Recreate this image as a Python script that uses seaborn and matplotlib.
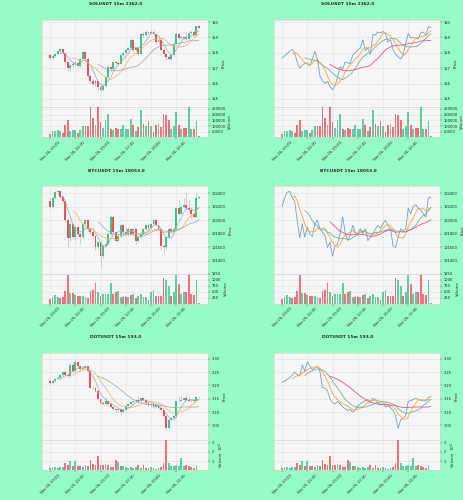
import numpy as np
import pandas as pd
import matplotlib
matplotlib.use("Agg")
import matplotlib.pyplot as plt
import seaborn as sns

sns.set_theme(style="whitegrid")
plt.rcParams['font.family'] = ['DejaVu Sans']

# ---------------- data ----------------
tick_pos = [0, 10, 20, 30, 40, 50]
tick_labels = ["Nov 06, 00:00", "Nov 06, 02:30", "Nov 06, 05:00",
               "Nov 06, 07:30", "Nov 06, 10:00", "Nov 06, 12:30"]

sol_title = "SOLUSDT 15m 2362.0"
sol_open = [157.85, 157.65, 157.8, 157.95, 158.1, 158.22, 158.0, 157.4, 157.0, 157.2,
            157.3, 157.35, 157.15, 157.6, 158.07, 157.6, 156.5, 156.2, 156.0, 156.15,
            155.8, 155.6, 155.85, 156.45, 157.1, 156.93, 157.4, 157.35, 157.3, 157.85,
            158.0, 158.2, 158.3, 158.85, 158.15, 158.3, 157.9, 159.2, 159.15, 159.35,
            159.3, 159.38, 159.25, 158.7, 158.85, 158.2, 157.9, 157.75, 157.6, 157.85,
            158.6, 159.25, 158.95, 159.0, 158.95, 158.9, 159.3, 159.35, 159.15, 159.72]
sol_close = [157.65, 157.8, 157.95, 158.1, 158.22, 158.0, 157.4, 157.0, 157.2, 157.3,
             157.35, 157.15, 157.6, 158.07, 157.6, 156.5, 156.2, 156.0, 156.15, 155.8,
             155.6, 155.85, 156.45, 157.1, 156.93, 157.4, 157.35, 157.3, 157.85, 158.0,
             158.2, 158.3, 158.85, 158.15, 158.3, 157.9, 159.2, 159.15, 159.35, 159.3,
             159.38, 159.25, 158.7, 158.85, 158.2, 157.9, 157.75, 157.6, 157.85, 158.6,
             159.25, 158.95, 159.0, 158.95, 158.9, 159.3, 159.35, 159.15, 159.72, 159.64]
sol_high = [157.9, 157.85, 158.0, 158.15, 158.28, 158.25, 158.05, 157.5, 157.3, 157.4,
            157.5, 157.45, 157.7, 158.15, 158.1, 157.65, 156.6, 156.3, 156.25, 156.2,
            155.9, 155.95, 156.5, 157.2, 157.15, 157.45, 157.5, 157.45, 157.9, 158.05,
            158.25, 158.4, 158.95, 158.9, 158.4, 158.35, 159.3, 159.4, 159.45, 159.4,
            159.5, 159.45, 159.3, 159.0, 158.9, 158.3, 157.95, 157.85, 157.9, 158.7,
            159.35, 159.3, 159.1, 159.1, 159.35, 159.4, 159.45, 159.4, 159.8, 159.75]
sol_low = [157.55, 157.6, 157.75, 157.9, 158.05, 157.95, 157.3, 156.85, 156.8, 157.1,
           157.2, 157.05, 157.1, 157.55, 157.5, 156.4, 156.05, 155.9, 155.85, 155.5,
           155.45, 155.55, 155.8, 156.4, 156.85, 156.9, 157.25, 157.2, 157.25, 157.8,
           157.95, 158.15, 158.25, 158.05, 158.1, 157.8, 157.85, 159.05, 159.1, 159.15,
           159.2, 159.15, 158.6, 158.6, 158.1, 157.75, 157.55, 157.5, 157.55, 157.8,
           158.55, 158.85, 158.9, 158.85, 158.8, 158.85, 159.2, 159.0, 159.1, 159.6]
sol_volume = [26000, 55000, 55000, 67000, 58000, 38000, 110000, 154000, 52000, 64000,
              64000, 40000, 64000, 98000, 98000, 98000, 267000, 174000, 113000, 267000,
              139000, 87000, 151000, 209000, 75000, 64000, 84000, 75000, 70000, 113000,
              72000, 72000, 162000, 107000, 58000, 93000, 243000, 122000, 101000, 145000,
              101000, 49000, 110000, 116000, 93000, 203000, 200000, 151000, 75000, 98000,
              223000, 110000, 70000, 84000, 84000, 267000, 78000, 75000, 145000, 12000]

btc_title = "BTCUSDT 15m 10053.0"
btc_open = [102290, 102205, 102330, 102415, 102430, 102340, 102280, 102000, 101740, 101950,
            101750, 101900, 101800, 101760, 101950, 102000, 101875, 101825, 101775, 101600,
            101675, 101470, 101620, 101650, 101800, 102050, 101825, 101700, 101775, 101925,
            101825, 101800, 101875, 101800, 101875, 101700, 101750, 101800, 101875, 101925,
            101880, 101950, 102000, 101925, 101875, 101620, 101600, 101750, 101875, 101850,
            101870, 102180, 102100, 102205, 102230, 102180, 102150, 102100, 102050, 102330]
btc_close = [102205, 102330, 102415, 102430, 102340, 102280, 102000, 101740, 101950, 101750,
             101900, 101800, 101760, 101950, 102000, 101875, 101825, 101775, 101600, 101675,
             101470, 101620, 101650, 101800, 102050, 101825, 101700, 101775, 101925, 101825,
             101800, 101875, 101800, 101875, 101700, 101750, 101800, 101875, 101925, 101880,
             101950, 102000, 101925, 101875, 101620, 101600, 101750, 101875, 101850, 101870,
             102180, 102100, 102205, 102230, 102180, 102150, 102100, 102050, 102330, 102345]
btc_high = [102330, 102360, 102440, 102450, 102440, 102360, 102300, 102020, 101990, 101980,
            101930, 101930, 101820, 101960, 102010, 102020, 101890, 101850, 101790, 101700,
            101690, 101640, 101700, 101830, 102080, 102060, 101840, 101800, 101950, 101940,
            101900, 101890, 101890, 101880, 101890, 101770, 101810, 101880, 101935, 101950,
            101960, 102040, 102010, 101935, 101880, 101640, 101760, 101890, 101880, 101900,
            102200, 102300, 102220, 102330, 102420, 102300, 102200, 102120, 102400, 102360]
btc_low = [102180, 102190, 102310, 102380, 102320, 102250, 101980, 101600, 101700, 101720,
           101700, 101780, 101650, 101740, 101930, 101850, 101800, 101740, 101560, 101580,
           101320, 101450, 101600, 101640, 101790, 101800, 101680, 101690, 101760, 101800,
           101780, 101780, 101780, 101790, 101650, 101680, 101740, 101790, 101860, 101860,
           101870, 101940, 101910, 101860, 101560, 101520, 101580, 101740, 101820, 101830,
           101860, 102080, 102090, 102190, 102160, 102130, 102020, 102030, 102040, 102310]
btc_volume = [210, 280, 355, 280, 240, 260, 540, 1185, 460, 430,
              355, 330, 330, 330, 290, 220, 525, 550, 855, 500,
              300, 395, 420, 420, 870, 395, 475, 525, 290, 290,
              290, 260, 355, 420, 240, 330, 395, 290, 280, 160,
              500, 550, 330, 300, 330, 1050, 1000, 725, 330, 500,
              1185, 815, 395, 500, 475, 1185, 420, 370, 990, 30]

dot_title = "DOTUSDT 15m 193.0"
dot_open = [3.217, 3.211, 3.217, 3.223, 3.229, 3.238, 3.250, 3.241, 3.236, 3.278,
            3.253, 3.288, 3.272, 3.260, 3.266, 3.272, 3.253, 3.192, 3.190, 3.180,
            3.149, 3.135, 3.131, 3.140, 3.131, 3.119, 3.113, 3.106, 3.110, 3.100,
            3.108, 3.122, 3.131, 3.137, 3.143, 3.147, 3.140, 3.152, 3.146, 3.135,
            3.127, 3.131, 3.119, 3.125, 3.115, 3.106, 3.086, 3.039, 3.070, 3.076,
            3.086, 3.140, 3.143, 3.147, 3.152, 3.147, 3.143, 3.146, 3.142, 3.155]
dot_close = [3.211, 3.217, 3.223, 3.229, 3.238, 3.250, 3.241, 3.236, 3.278, 3.253,
             3.288, 3.272, 3.260, 3.266, 3.272, 3.253, 3.192, 3.190, 3.180, 3.149,
             3.135, 3.131, 3.140, 3.131, 3.119, 3.113, 3.106, 3.110, 3.100, 3.108,
             3.122, 3.131, 3.137, 3.143, 3.147, 3.140, 3.152, 3.146, 3.135, 3.127,
             3.131, 3.119, 3.125, 3.115, 3.106, 3.086, 3.039, 3.070, 3.076, 3.086,
             3.140, 3.143, 3.147, 3.152, 3.147, 3.143, 3.142, 3.142, 3.155, 3.158]
dot_high = [3.220, 3.222, 3.226, 3.232, 3.242, 3.256, 3.254, 3.245, 3.290, 3.282,
            3.300, 3.292, 3.276, 3.270, 3.276, 3.275, 3.256, 3.198, 3.194, 3.184,
            3.152, 3.140, 3.158, 3.145, 3.134, 3.122, 3.116, 3.114, 3.112, 3.112,
            3.125, 3.134, 3.140, 3.146, 3.150, 3.160, 3.156, 3.155, 3.150, 3.138,
            3.134, 3.134, 3.130, 3.128, 3.118, 3.109, 3.090, 3.075, 3.080, 3.090,
            3.145, 3.160, 3.165, 3.158, 3.165, 3.160, 3.150, 3.150, 3.158, 3.160]
dot_low = [3.205, 3.208, 3.214, 3.220, 3.226, 3.235, 3.238, 3.228, 3.232, 3.250,
           3.250, 3.268, 3.255, 3.257, 3.262, 3.250, 3.188, 3.186, 3.176, 3.145,
           3.130, 3.128, 3.128, 3.126, 3.115, 3.108, 3.095, 3.100, 3.094, 3.096,
           3.105, 3.119, 3.128, 3.134, 3.140, 3.136, 3.137, 3.142, 3.130, 3.123,
           3.120, 3.115, 3.116, 3.111, 3.102, 3.080, 3.033, 3.035, 3.065, 3.072,
           3.083, 3.135, 3.140, 3.144, 3.143, 3.140, 3.138, 3.136, 3.138, 3.153]
dot_volume = [0.25e6, 0.3e6, 0.3e6, 0.25e6, 0.3e6, 0.35e6, 0.8e6, 0.6e6, 1.0e6, 0.5e6,
              1.0e6, 0.5e6, 0.4e6, 0.35e6, 0.6e6, 0.5e6, 1.1e6, 0.7e6, 0.55e6, 1.6e6,
              0.6e6, 0.55e6, 0.65e6, 0.6e6, 0.35e6, 0.3e6, 1.1e6, 0.9e6, 0.4e6, 0.45e6,
              0.3e6, 0.25e6, 0.3e6, 0.25e6, 0.35e6, 0.55e6, 0.2e6, 0.6e6, 0.2e6, 0.25e6,
              0.3e6, 0.2e6, 0.1e6, 0.25e6, 0.3e6, 0.75e6, 3.3e6, 0.75e6, 0.4e6, 0.45e6,
              0.55e6, 0.4e6, 1.3e6, 0.5e6, 0.55e6, 0.4e6, 0.3e6, 0.25e6, 0.55e6, 0.05e6]

sol_price_ticks = [155, 156, 157, 158, 159, 160]
btc_price_ticks = [101400, 101600, 101800, 102000, 102200, 102400]
dot_price_ticks = [3.05, 3.10, 3.15, 3.20, 3.25, 3.30]
sol_vol_ticks = [50000, 100000, 150000, 200000, 250000]
btc_vol_ticks = [250, 500, 750, 1000, 1250]
dot_vol_ticks = [1e6, 2e6, 3e6]
mav_windows = [5, 10, 20]

# ---------------- style ----------------
FIG_BG = "#96fcc6"
AX_BG = "#f6f6f6"
GRID = "#e2e2e2"
UP = "#3cc48a"
DOWN = "#ef4f5c"
WICK = "#b0b0b0"
LEFT_MAV = ["#8eaec4", "#f2ae62", "#9aa6a4"]
RIGHT_LINE = "#6796bd"
RIGHT_MAV = ["#f3a64a", "#7ab09a", "#d45c8e"]
TS = 2.6

W, H = 464, 500
fig = plt.figure(figsize=(W / 100, H / 100), dpi=100, facecolor=FIG_BG)


def axes_px(x0, y0, x1, y1, **kw):
    return fig.add_axes([x0 / W, 1 - y1 / H, (x1 - x0) / W, (y1 - y0) / H], **kw)


def style_ax(ax):
    ax.set_facecolor(AX_BG)
    ax.grid(True, color=GRID, lw=0.4)
    for s in ax.spines.values():
        s.set_color("#d0d0d0")
        s.set_linewidth(0.4)
    ax.yaxis.tick_right()
    ax.yaxis.set_label_position("right")
    ax.tick_params(axis="both", labelsize=TS, length=1.5, width=0.3, pad=1,
                   colors="#222222", right=True, bottom=True, left=False)


symbols = [
    (sol_title, sol_open, sol_high, sol_low, sol_close, sol_volume,
     sol_price_ticks, (154.48, 160.13), sol_vol_ticks, None, "%d"),
    (btc_title, btc_open, btc_high, btc_low, btc_close, btc_volume,
     btc_price_ticks, (101214, 102501), btc_vol_ticks, None, "%d"),
    (dot_title, dot_open, dot_high, dot_low, dot_close, dot_volume,
     dot_price_ticks, (2.995, 3.322), dot_vol_ticks, 1e6, "%.2f"),
]

row_off = [0, 166.5, 333]
col_off = [0, 232]

for r, (title, o, h, l, c, v, pt, plim, vt, vscale, pfmt) in enumerate(symbols):
    df = pd.DataFrame({"open": o, "high": h, "low": l, "close": c, "volume": v})
    df["idx"] = np.arange(len(df))
    df["up"] = df["close"] >= df["open"]
    colors = np.where(df["up"], UP, DOWN)
    for k, w in enumerate(mav_windows):
        df[f"mav{k}"] = df["close"].rolling(w).mean()

    for cc in range(2):
        yo, xo = row_off[r], col_off[cc]
        axp = axes_px(42 + xo, 20 + yo, 208 + xo, 107 + yo)
        axv = axes_px(42 + xo, 107 + yo, 208 + xo, 137 + yo, sharex=axp)
        style_ax(axp)
        style_ax(axv)

        if cc == 0:
            axp.vlines(df["idx"], df["low"], df["high"], color=WICK, lw=0.4, zorder=2)
            body = (df["close"] - df["open"]).abs()
            body = np.maximum(body, (plim[1] - plim[0]) * 0.004)
            axp.bar(df["idx"], body, bottom=np.minimum(df["open"], df["close"]),
                    width=0.75, color=colors, lw=0, zorder=3)
            for k in range(3):
                sns.lineplot(data=df, x="idx", y=f"mav{k}", ax=axp, color=LEFT_MAV[k],
                             lw=0.5, zorder=4)
        else:
            sns.lineplot(data=df, x="idx", y="close", ax=axp, color=RIGHT_LINE,
                         lw=0.6, alpha=0.9, zorder=3)
            for k in range(3):
                sns.lineplot(data=df, x="idx", y=f"mav{k}", ax=axp, color=RIGHT_MAV[k],
                             lw=0.6, zorder=4)

        axv.bar(df["idx"], df["volume"], width=0.7, color=colors, alpha=0.8, lw=0, zorder=3)

        axp.set_xlim(-3.2, 62.6)
        axp.set_ylim(*plim)
        axp.set_yticks(pt)
        axp.set_yticklabels([pfmt % t for t in pt])
        axp.tick_params(axis="x", labelbottom=False, length=0)
        axp.set_xlabel("")
        axp.set_ylabel("Price", fontsize=2.8, labelpad=2)

        axv.set_ylim(0.3 * min(v), max(v))
        axv.set_yticks(vt)
        if vscale:
            axv.set_yticklabels(["%d" % (t / vscale) for t in vt])
            axv.set_ylabel("Volume  $10^{6}$", fontsize=2.8, labelpad=2)
        else:
            axv.set_yticklabels(["%d" % t for t in vt])
            axv.set_ylabel("Volume", fontsize=2.8, labelpad=2)
        axv.set_xticks(tick_pos)
        axv.set_xticklabels(tick_labels, rotation=45, ha="center", fontsize=TS)
        axv.set_xlabel("")

        fig.text((116 + xo) / W, 1 - (yo + 4) / H, title, ha="center", va="center",
                 fontsize=3.2, fontweight="bold")

fig.savefig("out.png", dpi=100, facecolor=FIG_BG)
